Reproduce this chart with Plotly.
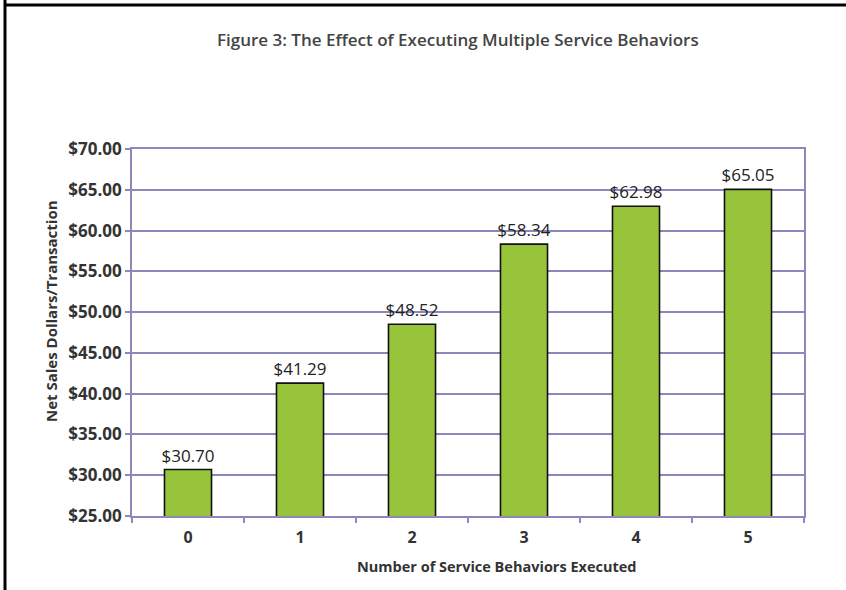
import plotly.graph_objects as go

# Net sales per transaction by number of service behaviors executed
behaviors = ["0", "1", "2", "3", "4", "5"]
net_sales = [30.70, 41.29, 48.52, 58.34, 62.98, 65.05]

y_ticks = [25, 30, 35, 40, 45, 50, 55, 60, 65, 70]
y_tick_text = ["$%.2f" % v for v in y_ticks]

GRID = "#8C87BC"
BAR = "#97C43A"
TEXT = "#333333"
FONT = "Open Sans"

fig = go.Figure(
    go.Bar(
        x=behaviors,
        y=net_sales,
        marker=dict(color=BAR, line=dict(color="#111111", width=1.6)),
        texttemplate="$%{y:.2f}",
        textposition="outside",
        constraintext="none",
        textfont=dict(family=FONT, size=17, color="#222222"),
        cliponaxis=False,
        width=0.42,
    )
)

fig.update_layout(
    width=846,
    height=590,
    margin=dict(l=132, r=42, t=149, b=74),
    paper_bgcolor="white",
    plot_bgcolor="white",
    showlegend=False,
    font=dict(family=FONT, color=TEXT),
)

fig.update_yaxes(
    range=[25, 70],
    tickvals=y_ticks,
    ticktext=y_tick_text,
    tickfont=dict(family=FONT, size=17, color=TEXT, weight=700),
    showgrid=True,
    gridcolor=GRID,
    gridwidth=1.6,
    showline=True,
    linecolor=GRID,
    linewidth=1.6,
    mirror=True,
    ticks="outside",
    ticklen=5,
    tickcolor=GRID,
    tickwidth=1.6,
    zeroline=False,
)

fig.update_xaxes(
    type="category",
    tickson="boundaries",
    ticks="outside",
    ticklen=5,
    tickcolor=GRID,
    tickwidth=1.6,
    showline=True,
    linecolor=GRID,
    linewidth=1.6,
    mirror=True,
    showgrid=False,
    ticklabelstandoff=6,
    tickfont=dict(family=FONT, size=16, color=TEXT, weight=700),
)

# Axis titles
fig.add_annotation(
    text="Number of Service Behaviors Executed",
    xref="paper", yref="paper",
    x=(497 - 132) / 672, y=(516 - 566) / 367,
    xanchor="center", yanchor="middle",
    showarrow=False,
    font=dict(family=FONT, size=14.5, color=TEXT, weight=700),
)
fig.add_annotation(
    text="Net Sales Dollars/Transaction",
    xref="paper", yref="paper",
    x=(51 - 132) / 672, y=(516 - 311) / 367,
    xanchor="center", yanchor="middle",
    textangle=-90,
    showarrow=False,
    font=dict(family=FONT, size=15, color=TEXT, weight=700),
)

# Figure heading
fig.add_annotation(
    text="Figure 3: The Effect of Executing Multiple Service Behaviors",
    xref="paper", yref="paper",
    x=(458 - 132) / 672, y=(516 - 40) / 367,
    xanchor="center", yanchor="middle",
    showarrow=False,
    font=dict(family=FONT, size=17, color="#444444", weight=600),
)

# Frame lines along the left and top edges
fig.add_shape(type="line", xref="paper", yref="paper",
              x0=(5 - 132) / 672, x1=(5 - 132) / 672,
              y0=(516 - 0) / 367, y1=(516 - 600) / 367,
              line=dict(color="black", width=3))
fig.add_shape(type="line", xref="paper", yref="paper",
              x0=(5 - 132) / 672, x1=(860 - 132) / 672,
              y0=(516 - 5) / 367, y1=(516 - 5) / 367,
              line=dict(color="black", width=3))

fig.write_html("out.html")
